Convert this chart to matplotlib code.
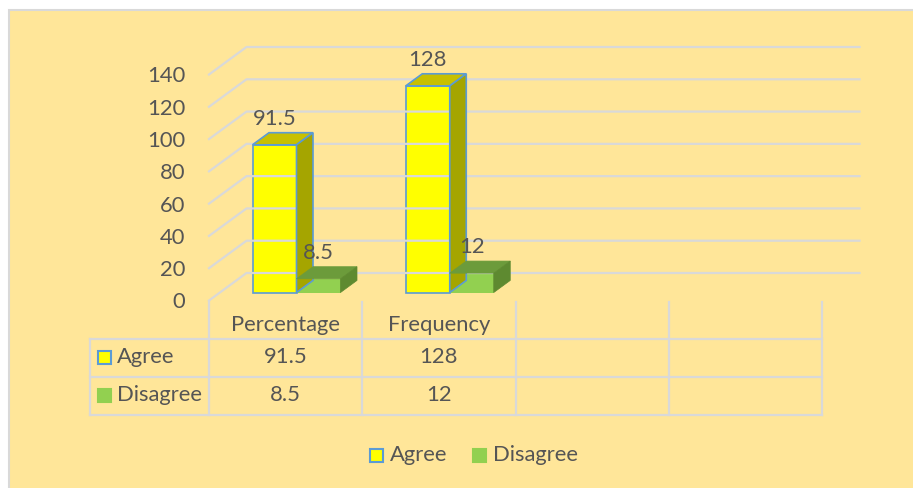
import matplotlib
matplotlib.use('Agg')
import matplotlib.pyplot as plt
import matplotlib.transforms as mtransforms
from matplotlib.patches import Polygon, Rectangle
from matplotlib.lines import Line2D
import numpy as np

# data
categories = ['Percentage', 'Frequency', '', '']
series = ['Agree', 'Disagree']
agree = [91.5, 128]
disagree = [8.5, 12]
yticks = [0, 20, 40, 60, 80, 100, 120, 140]

W, H = 913, 488
BG = '#FFE699'
GRID = '#D9D9D9'
TXT = '#555555'
FS = 15.8
plt.rcParams['font.family'] = ['Lato', 'DejaVu Sans']

fig = plt.figure(figsize=(W / 100, H / 100), dpi=100)
fig.patch.set_facecolor('white')


def fx(x):
    return x / W


def fy(y):
    return 1 - y / H


# chart area with light border
fig.add_artist(Rectangle((fx(9), fy(H + 10)), 1.0, (H + 10 - 10) / H, transform=fig.transFigure,
                         facecolor=BG, edgecolor=GRID, lw=1.5, zorder=0))

# front plane of the pseudo 3d plot
ax = fig.add_axes([fx(209), fy(300.5), fx(822) - fx(209), (300.5 - 74.5) / H])
ax.set_xlim(0, len(categories))
ax.set_ylim(0, 140)
ax.axis('off')
ax.patch.set_alpha(0)

DX, DY = 37.5, 27.5          # depth vector in pixels (display, y up)
d_front, d_back = 0.29, 0.73  # where the bars sit in depth
ident = mtransforms.IdentityTransform()


def disp(x, y, d=0.0):
    p = ax.transData.transform((x, y))
    return np.array([p[0] + d * DX, p[1] + d * DY])


def line(pts, **kw):
    pts = np.array(pts)
    fig.add_artist(Line2D(pts[:, 0], pts[:, 1], transform=ident, **kw))


# gridlines: left wall + back wall
for t in yticks:
    line([disp(0, t, 0), disp(0, t, 1), disp(len(categories), t, 1)], color=GRID, lw=1.6, zorder=1)
    p = disp(0, t, 0)
    fig.text(p[0] - 24, p[1] - 2, str(t), transform=ident, ha='right', va='center',
             fontsize=FS, color=TXT)

# bars
w = 44 / 153.25
x_c = np.arange(len(agree)) + 0.5
off = mtransforms.ScaledTranslation(d_front * DX / 100, d_front * DY / 100, fig.dpi_scale_trans)
styles = [
    dict(vals=agree, x0=x_c - w, front='#FFFF00', top='#C8C000', side='#A5A500', edge='#5B9BD5', z=3),
    dict(vals=disagree, x0=x_c, front='#92D050', top='#6C9B3B', side='#5E8A30', edge=None, z=6),
]
for s in styles:
    lw = 1.2 if s['edge'] else 0
    ax.bar(s['x0'], s['vals'], width=w, align='edge', color=s['front'], edgecolor=s['edge'],
           lw=lw, transform=ax.transData + off, zorder=s['z'], clip_on=False)
    for x0, v in zip(s['x0'], s['vals']):
        x1 = x0 + w
        top = [disp(x0, v, d_front), disp(x1, v, d_front), disp(x1, v, d_back), disp(x0, v, d_back)]
        side = [disp(x1, 0, d_front), disp(x1, v, d_front), disp(x1, v, d_back), disp(x1, 0, d_back)]
        fig.add_artist(Polygon(top, closed=True, transform=ident, facecolor=s['top'],
                               edgecolor=s['edge'] or s['top'], lw=lw or 0.5, zorder=s['z'] + 1))
        fig.add_artist(Polygon(side, closed=True, transform=ident, facecolor=s['side'],
                               edgecolor=s['edge'] or s['side'], lw=lw or 0.5, zorder=s['z'] + 1))
        pf = disp(x0 + w / 2, v, d_front)
        pb = disp(x0, v, d_back)
        fig.text(pf[0], pb[1] + 14, f'{v:g}', transform=ident, ha='center', va='center',
                 fontsize=FS, color=TXT, zorder=10)

# data table
y_top, y_h, y_r1, y_r2 = 301.5, 339, 377, 415
x_left = 90
bounds = [disp(i, 0)[0] for i in range(len(categories) + 1)]
for bx in bounds:
    fig.add_artist(Line2D([fx(bx), fx(bx)], [fy(y_top), fy(y_r2)], transform=fig.transFigure,
                          color=GRID, lw=1.6))
fig.add_artist(Line2D([fx(x_left), fx(x_left)], [fy(y_h), fy(y_r2)], transform=fig.transFigure,
                      color=GRID, lw=1.6))
for yy in [y_h, y_r1, y_r2]:
    fig.add_artist(Line2D([fx(x_left), fx(bounds[-1])], [fy(yy), fy(yy)], transform=fig.transFigure,
                          color=GRID, lw=1.6))

rows = [agree, disagree]
row_y = [357, 395]
for i, cat in enumerate(categories):
    cx = (bounds[i] + bounds[i + 1]) / 2
    fig.text(fx(cx), fy(325), cat, ha='center', va='center', fontsize=FS, color=TXT)
    for vals, ry in zip(rows, row_y):
        if i < len(vals):
            fig.text(fx(cx), fy(ry), f'{vals[i]:g}', ha='center', va='center', fontsize=FS, color=TXT)


def key(x, y, s):
    fig.add_artist(Rectangle((fx(x), fy(y + 6.5)), 13 / W, 13 / H, transform=fig.transFigure,
                             facecolor=s['front'], edgecolor=s['edge'] or s['front'], lw=1.5))


for s, name, ry in zip(styles, series, row_y):
    key(98, ry, s)
    fig.text(fx(117), fy(ry), name, ha='left', va='center', fontsize=FS, color=TXT)

# legend
for s, name, lx in zip(styles, series, [370, 473]):
    key(lx, 455, s)
    fig.text(fx(lx + 20), fy(455), name, ha='left', va='center', fontsize=FS, color=TXT)

fig.savefig('out.png', dpi=100, facecolor=fig.get_facecolor())
